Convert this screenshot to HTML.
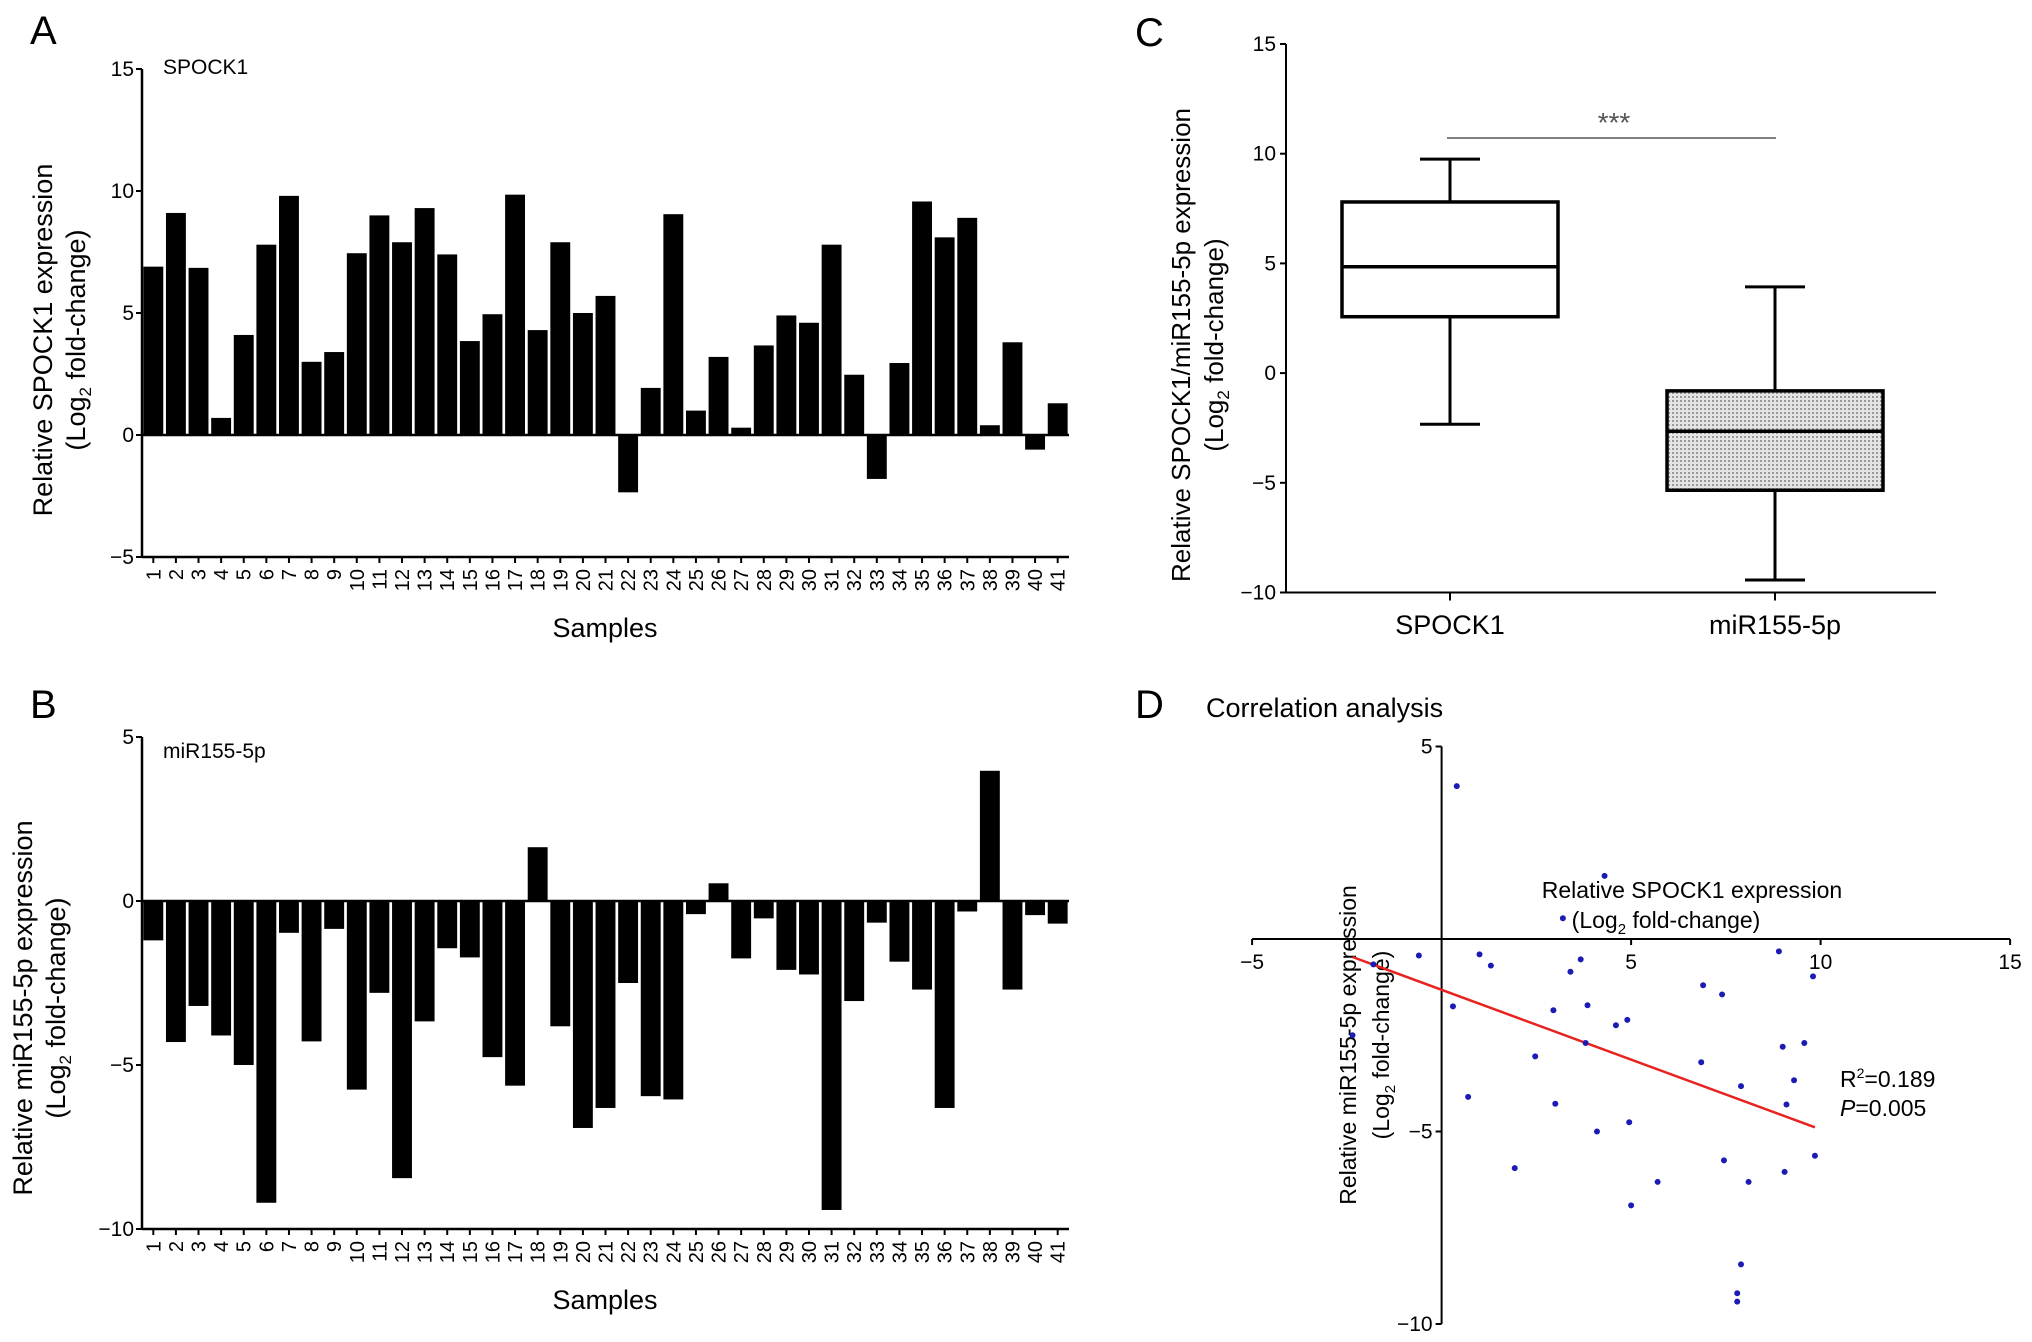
<!DOCTYPE html>
<html><head><meta charset="utf-8"><style>
html,body{margin:0;padding:0;background:#fff}
svg{display:block;font-family:"Liberation Sans",Arial,sans-serif}
</style></head><body>
<svg id="fig" width="2032" height="1342" viewBox="0 0 2032 1342" xmlns="http://www.w3.org/2000/svg"></svg>
<script>
const samples = Array.from({length:41},(_,i)=>String(i+1));
const spock1 = [6.9,9.1,6.85,0.7,4.1,7.8,9.8,3.0,3.4,7.45,9.0,7.9,9.3,7.4,3.85,4.95,9.85,4.3,7.9,5.0,5.7,-2.35,1.93,9.05,1.0,3.2,0.3,3.67,4.9,4.6,7.8,2.47,-1.8,2.95,9.57,8.1,8.9,0.4,3.8,-0.6,1.3];
const mir155 = [-1.2,-4.3,-3.2,-4.1,-5.0,-9.2,-0.97,-4.28,-0.85,-5.75,-2.8,-8.45,-3.67,-1.44,-1.72,-4.76,-5.63,1.64,-3.82,-6.92,-6.31,-2.5,-5.95,-6.05,-0.4,0.54,-1.75,-0.53,-2.1,-2.24,-9.42,-3.05,-0.66,-1.85,-2.7,-6.31,-0.32,3.97,-2.7,-0.43,-0.69];
const ticksA = [-5,0,5,10,15];
const ticksB = [-10,-5,0,5];
const ticksC = [-10,-5,0,5,10,15];
const boxGroups = ["SPOCK1","miR155-5p"];
const boxMin = [-2.33,-9.43];
const boxQ1 = [2.57,-5.34];
const boxMed = [4.85,-2.65];
const boxQ3 = [7.8,-0.81];
const boxMax = [9.75,3.93];
const ticksDx = [-5,5,10,15];
const ticksDy = [-10,-5,5];

const svg=document.getElementById('fig');
const NS='http://www.w3.org/2000/svg';
function el(tag,attrs,parent,text){const e=document.createElementNS(NS,tag);for(const k in attrs)e.setAttribute(k,attrs[k]);if(text!==undefined)e.textContent=text;(parent||svg).appendChild(e);return e;}

function barPanel(name,vals,ticks,ymin,ymax,yTop,yBot,letter,letterY,label,labelY,title1,title2,titleCY,t1x,t2x){
  const g=el('g',{},svg);
  
  
  const x0=142,x1=1069;
  const ys=v=>yBot-(v-ymin)/(ymax-ymin)*(yBot-yTop);
  const L=el('text',{x:30,y:letterY,'font-size':40},g,letter);
  
  const lb=el('text',{x:163,y:labelY,'font-size':21},g,label);
  
  const step=(x1-x0)/vals.length, bw=step*0.88;
  vals.forEach((v,i)=>{
    const cx=x0+step*(i+0.5);
    const r=el('rect',{x:cx-bw/2,y:Math.min(ys(v),ys(0)),width:bw,height:Math.abs(ys(v)-ys(0)),fill:'#000'},g);
    
    
    el('line',{x1:cx,x2:cx,y1:yBot,y2:yBot+6,stroke:'#000','stroke-width':2},g);
    const t=el('text',{x:0,y:0,'font-size':20,'text-anchor':'end',transform:`translate(${cx+7},${yBot+12}) rotate(-90)`},g,samples[i]);
    
    
  });
  el('line',{x1:x0,x2:x1,y1:ys(0),y2:ys(0),stroke:'#000','stroke-width':2.5},g);
  el('line',{x1:x0,x2:x1,y1:yBot,y2:yBot,stroke:'#000','stroke-width':2.5},g);
  el('line',{x1:x0,x2:x0,y1:yTop,y2:yBot,stroke:'#000','stroke-width':2.5},g);
  ticks.forEach(t=>{
    el('line',{x1:x0-6,x2:x0,y1:ys(t),y2:ys(t),stroke:'#000','stroke-width':2},g);
    const tl=el('text',{x:x0-8,y:ys(t)+7,'font-size':21,'text-anchor':'end'},g,t<0?'\u2212'+(-t):String(t));
    
  });
  const xt=el('text',{x:605,y:yBot+80,'font-size':27,'text-anchor':'middle'},g,'Samples');
  
  const yt=el('text',{x:0,y:0,'font-size':27,'text-anchor':'middle',transform:`translate(${t1x},${titleCY}) rotate(-90)`},g);
  
  el('tspan',{x:0,y:0},yt,title1);
  el('tspan',{x:0,y:t2x-t1x},yt,'(Log');
  el('tspan',{'font-size':17,dy:6},yt,'2');
  el('tspan',{dy:-6},yt,' fold-change)');
}
barPanel('panel-a-spock1-bars',spock1,ticksA,-5,15,69,557,'A',44,'SPOCK1',74,'Relative SPOCK1 expression',null,340,52,85);
barPanel('panel-b-mir155-bars',mir155,ticksB,-10,5,737,1229,'B',718,'miR155-5p',758,'Relative miR155-5p expression',null,1008,32,65);

// Panel C
(function(){
  const g=el('g',{},svg);
  
  
  const defs=el('defs',{},g);
  const p=el('pattern',{id:'dots',width:4,height:4,patternUnits:'userSpaceOnUse'},defs);
  el('rect',{width:4,height:4,fill:'#e4e4e4'},p);
  el('rect',{width:2,height:2,fill:'#9a9a9a'},p);
  const x0=1286,x1=1936,yTop=44,yBot=592.5;
  const ys=v=>yBot-(v+10)/25*(yBot-yTop);
  const L=el('text',{x:1135,y:46,'font-size':40},g,'C');
  
  el('line',{x1:x0,x2:x0,y1:yTop,y2:yBot,stroke:'#000','stroke-width':2},g);
  el('line',{x1:x0,x2:x1,y1:yBot,y2:yBot,stroke:'#000','stroke-width':2},g);
  ticksC.forEach(t=>{
    el('line',{x1:x0-6,x2:x0,y1:ys(t),y2:ys(t),stroke:'#000','stroke-width':2},g);
    const tl=el('text',{x:x0-10,y:ys(t)+7,'font-size':21,'text-anchor':'end'},g,t<0?'\u2212'+(-t):String(t));
    
  });
  const centers=[1450,1775], hw=108, cw=30;
  boxGroups.forEach((name,i)=>{
    const cx=centers[i];
    el('line',{x1:cx,x2:cx,y1:yBot,y2:yBot+8,stroke:'#000','stroke-width':2},g);
    const w=el('line',{x1:cx,x2:cx,y1:ys(boxMax[i]),y2:ys(boxMin[i]),stroke:'#000','stroke-width':3},g);
    
    el('line',{x1:cx-cw,x2:cx+cw,y1:ys(boxMax[i]),y2:ys(boxMax[i]),stroke:'#000','stroke-width':3},g);
    el('line',{x1:cx-cw,x2:cx+cw,y1:ys(boxMin[i]),y2:ys(boxMin[i]),stroke:'#000','stroke-width':3},g);
    const b=el('rect',{x:cx-hw,y:ys(boxQ3[i]),width:2*hw,height:ys(boxQ1[i])-ys(boxQ3[i]),fill:i?'url(#dots)':'#fff',stroke:'#000','stroke-width':3.5},g);
    
    el('line',{x1:cx-hw,x2:cx+hw,y1:ys(boxMed[i]),y2:ys(boxMed[i]),stroke:'#000','stroke-width':3.5},g);
    const cl=el('text',{x:cx,y:634,'font-size':27,'text-anchor':'middle'},g,name);
    
  });
  const sl=el('line',{x1:1447,x2:1776,y1:138,y2:138,stroke:'#555','stroke-width':1.5},g);
  
  const st=el('text',{x:1614,y:132,'font-size':28,'text-anchor':'middle',fill:'#555'},g,'***');
  
  const yt=el('text',{x:0,y:0,'font-size':26,'text-anchor':'middle',transform:'translate(1190,345) rotate(-90)'},g);
  
  el('tspan',{x:0,y:0},yt,'Relative SPOCK1/miR155-5p expression');
  el('tspan',{x:0,y:33},yt,'(Log');
  el('tspan',{'font-size':17,dy:6},yt,'2');
  el('tspan',{dy:-6},yt,' fold-change)');
})();

// Panel D
(function(){
  const g=el('g',{},svg);
  
  
  const xs=v=>1441.6+v*37.9, ys=v=>939-v*38.5;
  const L=el('text',{x:1135,y:718,'font-size':40},g,'D');
  
  const tt=el('text',{x:1206,y:717,'font-size':27},g,'Correlation analysis');
  
  el('line',{x1:xs(-5),x2:xs(15),y1:ys(0),y2:ys(0),stroke:'#000','stroke-width':2},g);
  el('line',{x1:xs(0),x2:xs(0),y1:ys(5),y2:ys(-10),stroke:'#000','stroke-width':2},g);
  ticksDx.forEach(t=>{
    el('line',{x1:xs(t),x2:xs(t),y1:ys(0),y2:ys(0)+6,stroke:'#000','stroke-width':2},g);
    const tl=el('text',{x:xs(t),y:ys(0)+30,'font-size':21,'text-anchor':'middle'},g,t<0?'\u2212'+(-t):String(t));
    
  });
  ticksDy.forEach(t=>{
    el('line',{x1:xs(0)-6,x2:xs(0),y1:ys(t),y2:ys(t),stroke:'#000','stroke-width':2},g);
    const tl=el('text',{x:xs(0)-9,y:ys(t)+7,'font-size':21,'text-anchor':'end'},g,t<0?'\u2212'+(-t):String(t));
    
  });
  const xt=el('text',{x:1692,y:898,'font-size':23,'text-anchor':'middle'},g);
  
  el('tspan',{x:1692,y:898},xt,'Relative SPOCK1 expression');
  el('tspan',{x:1666,y:928},xt,'(Log');
  el('tspan',{'font-size':15,dy:6},xt,'2');
  el('tspan',{dy:-6},xt,' fold-change)');
  const yt=el('text',{x:0,y:0,'font-size':23,'text-anchor':'middle',transform:'translate(1356,1045) rotate(-90)'},g);
  
  el('tspan',{x:0,y:0},yt,'Relative miR155-5p expression');
  el('tspan',{x:0,y:33},yt,'(Log');
  el('tspan',{'font-size':15,dy:6},yt,'2');
  el('tspan',{dy:-6},yt,' fold-change)');
  const n=spock1.length;
  const mx=spock1.reduce((a,b)=>a+b,0)/n, my=mir155.reduce((a,b)=>a+b,0)/n;
  let sxy=0,sxx=0;for(let i=0;i<n;i++){sxy+=(spock1[i]-mx)*(mir155[i]-my);sxx+=(spock1[i]-mx)**2;}
  const slope=sxy/sxx, icpt=my-slope*mx;
  const xa=Math.min(...spock1), xb=Math.max(...spock1);
  const rl=el('line',{x1:xs(xa),y1:ys(icpt+slope*xa),x2:xs(xb),y2:ys(icpt+slope*xb),stroke:'#e8231f','stroke-width':2.5},g);
  
  for(let i=0;i<n;i++){
    const c=el('circle',{cx:xs(spock1[i]),cy:ys(mir155[i]),r:3,fill:'#1c1cb4'},g);
    
    
  }
  const r2=el('text',{x:1840,y:1087,'font-size':23},g);
  
  el('tspan',{},r2,'R');el('tspan',{'font-size':14,dy:-9},r2,'2');el('tspan',{dy:9},r2,'=0.189');
  const pv=el('text',{x:1840,y:1116,'font-size':23},g);
  
  el('tspan',{'font-style':'italic'},pv,'P');el('tspan',{},pv,'=0.005');
})();
</script>
</body></html>
